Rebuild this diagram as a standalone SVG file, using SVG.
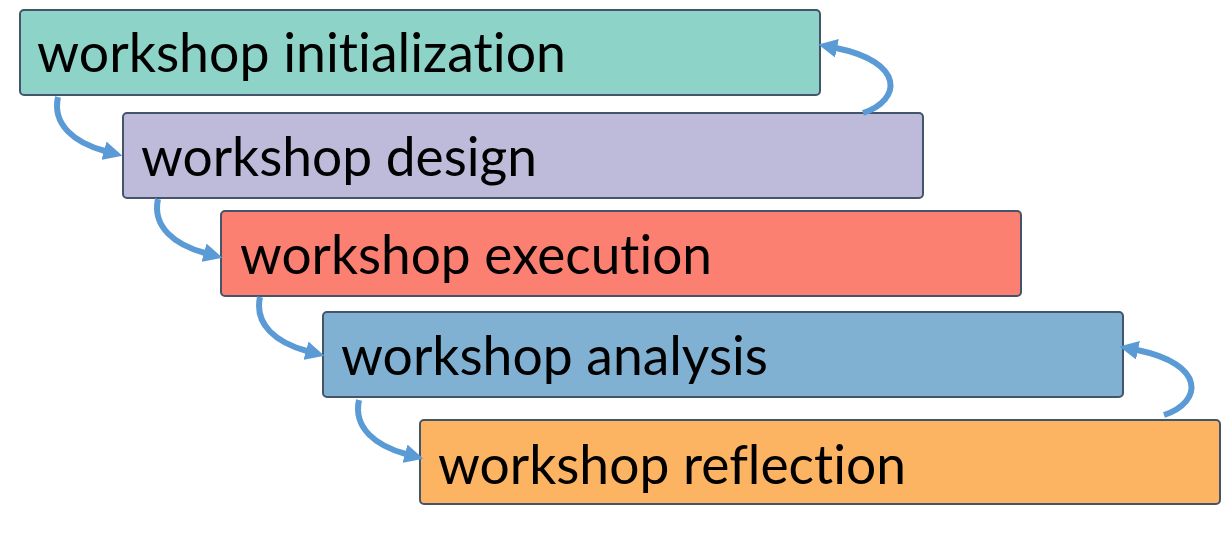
<svg xmlns="http://www.w3.org/2000/svg" width="1221" height="534" viewBox="0 0 1221 534">
  <style>
    .box { stroke: #44546A; stroke-width: 2; }
    .lbl { font-family: Lato, "Open Sans", "Liberation Sans", sans-serif; font-size: 55px; fill: #000000; font-variant-ligatures: none; font-feature-settings: "liga" 0, "clig" 0; }
    .arr { fill: none; stroke: #5B9BD5; stroke-width: 6; marker-end: url(#ah); }
  </style>
  <defs>
    <marker id="ah" markerUnits="userSpaceOnUse" markerWidth="19" markerHeight="19" viewBox="0 0 19 19" refX="1" refY="9.5" orient="auto">
      <path d="M0,0 L19,9.5 L0,19 z" fill="#5B9BD5"/>
    </marker>
  </defs>
  <rect width="1221" height="534" fill="#FFFFFF"/>
  <g id="node-initialization">
    <rect class="box" x="20" y="10" width="800" height="85" rx="4" fill="#8DD3C7"/>
    <text class="lbl" x="37" y="72" textLength="529" lengthAdjust="spacingAndGlyphs">workshop initialization</text>
  </g>
  <g id="node-design">
    <rect class="box" x="123" y="113" width="800" height="85" rx="4" fill="#BEBADA"/>
    <text class="lbl" x="141" y="176" textLength="396" lengthAdjust="spacingAndGlyphs">workshop design</text>
  </g>
  <g id="node-execution">
    <rect class="box" x="221" y="211" width="800" height="85" rx="4" fill="#FB8072"/>
    <text class="lbl" x="240" y="274" textLength="472" lengthAdjust="spacingAndGlyphs">workshop execution</text>
  </g>
  <g id="node-analysis">
    <rect class="box" x="323" y="312" width="800" height="85" rx="4" fill="#80B1D3"/>
    <text class="lbl" x="341" y="375" textLength="427" lengthAdjust="spacingAndGlyphs">workshop analysis</text>
  </g>
  <g id="node-reflection">
    <rect class="box" x="420" y="420" width="800" height="84" rx="4" fill="#FDB462"/>
    <text class="lbl" x="438" y="484" textLength="468" lengthAdjust="spacingAndGlyphs">workshop reflection</text>
  </g>
  <g id="connectors">
    <path class="arr" d="M58,97 c -6,28 17,46 47,54"/>
    <path class="arr" d="M158,199 c -6,28 17,46 47,54"/>
    <path class="arr" d="M260,297 c -6,28 17,46 47,54"/>
    <path class="arr" d="M359,400 c -6,28 17,46 47,54"/>
    <path class="arr" d="M863,113 C 902,100 905,62 836,48"/>
    <path class="arr" d="M1164,415 C 1203,402 1206,364 1137,350"/>
  </g>
</svg>
